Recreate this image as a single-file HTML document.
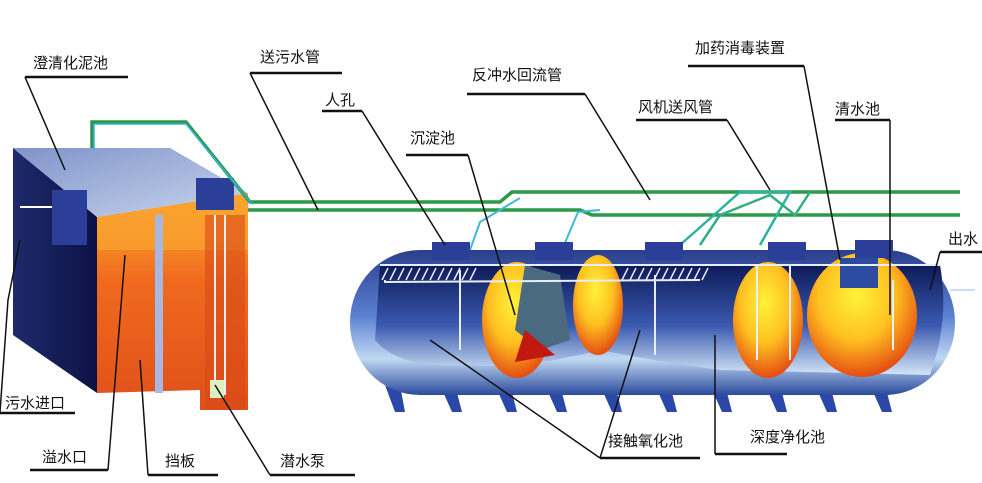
<!DOCTYPE html>
<html><head><meta charset="utf-8"><style>
html,body{margin:0;padding:0;background:#fff;}
svg{display:block;}
text{font-family:"Liberation Sans","Noto Sans CJK SC",sans-serif;font-size:15px;fill:#111;}
</style></head><body>
<svg width="982" height="483" viewBox="0 0 982 483" xmlns="http://www.w3.org/2000/svg">
<defs>
<linearGradient id="top" x1="0" y1="0" x2="1" y2="1"><stop offset="0" stop-color="#7f93c8"/><stop offset="1" stop-color="#c9d6ee"/></linearGradient>
<linearGradient id="side" x1="0" y1="0" x2="1" y2="0"><stop offset="0" stop-color="#1e2a6a"/><stop offset="1" stop-color="#0c1246"/></linearGradient>
<linearGradient id="org" x1="0" y1="0" x2="0" y2="1"><stop offset="0" stop-color="#ffb530"/><stop offset="0.4" stop-color="#f06a1e"/><stop offset="1" stop-color="#e0501a"/></linearGradient>
<linearGradient id="tank" x1="0" y1="0" x2="0" y2="1"><stop offset="0" stop-color="#2b3f8c"/><stop offset="0.45" stop-color="#5a80d0"/><stop offset="0.75" stop-color="#c0d8f2"/><stop offset="1" stop-color="#2b4a9c"/></linearGradient>
<linearGradient id="inner" x1="0" y1="0" x2="0" y2="1"><stop offset="0" stop-color="#0e1a58"/><stop offset="0.55" stop-color="#3a5ab0"/><stop offset="1" stop-color="#d4e6f6"/></linearGradient>
<radialGradient id="yel" cx="0.45" cy="0.35" r="0.7"><stop offset="0" stop-color="#fff23a"/><stop offset="0.5" stop-color="#ffc020"/><stop offset="1" stop-color="#e03a10"/></radialGradient>
</defs>

<!-- left box -->
<polygon points="13,148 97,217 97,393 13,335" fill="url(#side)"/>
<polygon points="97,217 248,193 248,410 200,410 200,390 97,393" fill="url(#org)"/>
<polygon points="97,217 248,193 248,250 97,250" fill="#f9a030" opacity="0.8"/>
<rect x="155" y="215" width="8" height="178" fill="#a9b8e0"/>
<rect x="205" y="215" width="40" height="195" fill="#d84a18" opacity="0.6"/>
<polygon points="13,148 170,148 248,193 97,217" fill="url(#top)"/>
<rect x="52" y="190" width="35" height="55" fill="#2c3f98"/>
<rect x="196" y="178" width="38" height="32" fill="#2c3f98"/>
<line x1="215" y1="215" x2="215" y2="395" stroke="#eee" stroke-width="2"/>
<line x1="225" y1="215" x2="225" y2="395" stroke="#eee" stroke-width="2"/>
<rect x="210" y="380" width="14" height="18" fill="#ddeec0"/>
<line x1="20" y1="207" x2="52" y2="207" stroke="#fff" stroke-width="2"/>

<!-- pipes -->
<g fill="none" stroke-width="3.5">
<polyline points="92,148 92,122 186,122 250,202 500,202 512,192 960,192" stroke="#2a9a4a"/>
<polyline points="248,210 580,210 592,215 960,215" stroke="#2a9a4a"/>
<polyline points="94,150 94,124 186,124 252,204" stroke="#35b0e0" stroke-width="1.5"/>
<polyline points="470,250 480,222 520,198" stroke="#40b8d8" stroke-width="2"/>
<polyline points="562,250 578,212 600,210" stroke="#40b8d8" stroke-width="2"/>
<polyline points="680,245 740,192 790,192 760,245" stroke="#30b0a0" stroke-width="2.5"/>
<polyline points="700,245 720,215 770,195 795,215 810,192" stroke="#30b080" stroke-width="2.5"/>
</g>

<!-- tank -->
<g fill="#2b47a8">
<polygon points="385,385 400,385 405,412 395,412"/><polygon points="440,385 455,385 462,412 452,412"/>
<polygon points="495,385 510,385 517,412 507,412"/><polygon points="545,385 560,385 567,412 557,412"/>
<polygon points="600,385 615,385 622,412 612,412"/><polygon points="655,385 670,385 677,412 667,412"/>
<polygon points="710,385 725,385 732,412 722,412"/><polygon points="765,385 780,385 787,412 777,412"/>
<polygon points="815,385 830,385 837,412 827,412"/><polygon points="870,385 885,385 892,412 882,412"/>
</g>
<rect x="350" y="250" width="605" height="145" rx="70" ry="72" fill="url(#tank)"/>
<path d="M380,265 L940,265 Q950,320 930,375 L720,370 Q650,360 600,350 Q520,370 470,365 Q400,370 375,340 Z" fill="url(#inner)"/>
<ellipse cx="517" cy="320" rx="35" ry="58" fill="url(#yel)"/>
<polygon points="525,265 560,275 570,340 540,350 515,330" fill="#4a6a80"/>
<polygon points="525,330 555,355 515,362" fill="#c01a10"/>
<ellipse cx="598" cy="305" rx="25" ry="50" fill="url(#yel)"/>
<ellipse cx="768" cy="320" rx="35" ry="58" fill="url(#yel)"/>
<ellipse cx="862" cy="315" rx="55" ry="62" fill="url(#yel)"/>
<rect x="840" y="258" width="38" height="30" fill="#2c4aa0"/>
<g stroke="#e8eef8" stroke-width="2" fill="none">
<line x1="380" y1="265" x2="940" y2="265"/>
<polyline points="385,280 385,282 700,280"/>
<line x1="460" y1="270" x2="460" y2="350"/><line x1="655" y1="275" x2="655" y2="355"/>
<line x1="757" y1="265" x2="757" y2="360"/><line x1="790" y1="265" x2="790" y2="360"/>
<line x1="893" y1="280" x2="893" y2="350"/>
</g>
<g stroke="#e8eef8" stroke-width="1.5">
<path d="M388,268 l-6,12 M396,268 l-6,12 M404,268 l-6,12 M412,268 l-6,12 M420,268 l-6,12 M428,268 l-6,12 M436,268 l-6,12 M444,268 l-6,12 M452,268 l-6,12 M460,268 l-6,12 M468,268 l-6,12 M476,268 l-6,12"/>
<path d="M628,268 l-6,12 M636,268 l-6,12 M644,268 l-6,12 M652,268 l-6,12 M660,268 l-6,12 M668,268 l-6,12 M676,268 l-6,12 M684,268 l-6,12 M692,268 l-6,12 M700,268 l-6,12 M708,268 l-6,12"/>
</g>
<g fill="#2c3f98">
<rect x="432" y="242" width="38" height="18"/><rect x="535" y="242" width="38" height="18"/>
<rect x="645" y="242" width="38" height="18"/><rect x="768" y="242" width="38" height="18"/>
<rect x="855" y="240" width="38" height="18"/>
</g>
<line x1="950" y1="290" x2="975" y2="290" stroke="#cde" stroke-width="2"/>

<!-- leaders -->
<g stroke="#111" stroke-width="1.5" fill="none">
<polyline points="25,77 65,170"/>
<polyline points="250,73 318,210"/>
<polyline points="362,111 445,245"/>
<polyline points="468,155 515,315"/>
<polyline points="585,94 650,200"/>
<polyline points="727,120 770,190"/>
<polyline points="804,66 840,260"/>
<polyline points="890,120 890,315"/>
<polyline points="940,252 930,290"/>
<polyline points="0,412 8,300 20,240"/>
<polyline points="108,470 125,255"/>
<polyline points="148,475 140,360"/>
<polyline points="270,475 215,385"/>
<polyline points="600,458 430,340"/>
<polyline points="600,458 640,330"/>
<polyline points="715,454 715,335"/>
</g>
<g stroke="#111" stroke-width="2.5" fill="none">
<line x1="25" y1="77" x2="128" y2="77"/>
<line x1="250" y1="73" x2="342" y2="73"/>
<line x1="322" y1="111" x2="362" y2="111"/>
<line x1="406" y1="155" x2="468" y2="155"/>
<line x1="467" y1="94" x2="585" y2="94"/>
<line x1="636" y1="120" x2="727" y2="120"/>
<line x1="688" y1="66" x2="804" y2="66"/>
<line x1="835" y1="120" x2="890" y2="120"/>
<line x1="940" y1="252" x2="982" y2="252"/>
<line x1="0" y1="413" x2="75" y2="413"/>
<line x1="30" y1="470" x2="108" y2="470"/>
<line x1="148" y1="475" x2="218" y2="475"/>
<line x1="270" y1="475" x2="355" y2="475"/>
<line x1="600" y1="458" x2="700" y2="458"/>
<line x1="715" y1="454" x2="787" y2="454"/>
</g>

<text x="33" y="68">澄清化泥池</text>
<text x="260" y="62">送污水管</text>
<text x="325" y="105">人孔</text>
<text x="410" y="143">沉淀池</text>
<text x="472" y="80">反冲水回流管</text>
<text x="638" y="112">风机送风管</text>
<text x="695" y="53">加药消毒装置</text>
<text x="835" y="114">清水池</text>
<text x="948" y="244">出水</text>
<text x="5" y="408">污水进口</text>
<text x="42" y="462">溢水口</text>
<text x="165" y="466">挡板</text>
<text x="280" y="466">潜水泵</text>
<text x="608" y="446">接触氧化池</text>
<text x="750" y="442">深度净化池</text>
</svg>
</body></html>
